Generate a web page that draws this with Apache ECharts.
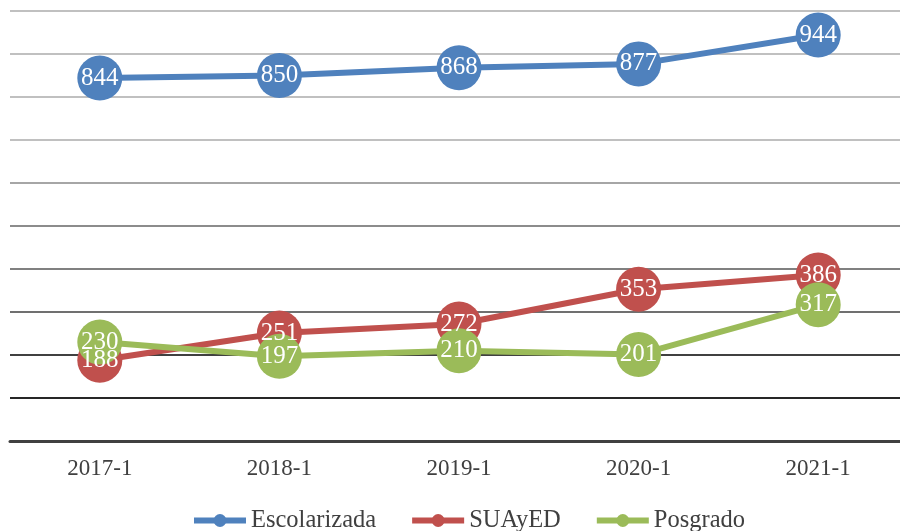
<!DOCTYPE html>
<html>
<head>
<meta charset="utf-8">
<script src="https://cdn.jsdelivr.net/npm/echarts@6/dist/echarts.min.js"></script>
<style>
  html, body { margin: 0; padding: 0; background: #fff; }
  #chart { width: 900px; height: 531px; }
</style>
</head>
<body>
<div id="chart"></div>
<script>
var categories = ["2017-1", "2018-1", "2019-1", "2020-1", "2021-1"];
var escolarizada = [844, 850, 868, 877, 944];
var suayed = [188, 251, 272, 353, 386];
var posgrado = [230, 197, 210, 201, 317];

// gridline colours from 0 up to 1000 (darker at the bottom)
var gridColors = ["#404040", "#262626", "#404040", "#707070", "#808080", "#8c8c8c",
  "#a6a6a6", "#c0c0c0", "#c0c0c0", "#c0c0c0", "#c0c0c0"];

var font = "Liberation Serif";

function makeSeries(name, data, color) {
  return {
    name: name,
    type: "line",
    data: data,
    symbol: "circle",
    symbolSize: 45,
    itemStyle: { color: color },
    lineStyle: { color: color, width: 6 },
    label: {
      show: true,
      position: "inside",
      color: "#fff",
      fontFamily: font,
      fontSize: 25
    },
    animation: false
  };
}

var chart = echarts.init(document.getElementById("chart"));
chart.setOption({
  grid: { left: 10, right: -8, top: 11, bottom: 90, outerBoundsMode: "none" },
  xAxis: {
    type: "category",
    data: categories,
    boundaryGap: true,
    axisLine: { lineStyle: { color: "#404040", width: 3 } },
    axisTick: { show: false },
    axisLabel: { color: "#404040", fontFamily: font, fontSize: 23, margin: 16 }
  },
  yAxis: {
    type: "value",
    min: 0,
    max: 1000,
    interval: 100,
    axisLabel: { show: false },
    axisLine: { show: false },
    axisTick: { show: false },
    splitLine: { lineStyle: { color: gridColors, width: 2 } }
  },
  legend: {
    top: 503,
    left: 186,
    itemWidth: 52,
    itemHeight: 16,
    itemGap: 33,
    lineStyle: { width: 6 },
    textStyle: { color: "#404040", fontFamily: font, fontSize: 24.5 },
    data: ["Escolarizada", "SUAyED", "Posgrado"]
  },
  series: [
    makeSeries("Escolarizada", escolarizada, "#4f81bd"),
    makeSeries("SUAyED", suayed, "#c0504d"),
    makeSeries("Posgrado", posgrado, "#9bbb59")
  ]
});
</script>
</body>
</html>
